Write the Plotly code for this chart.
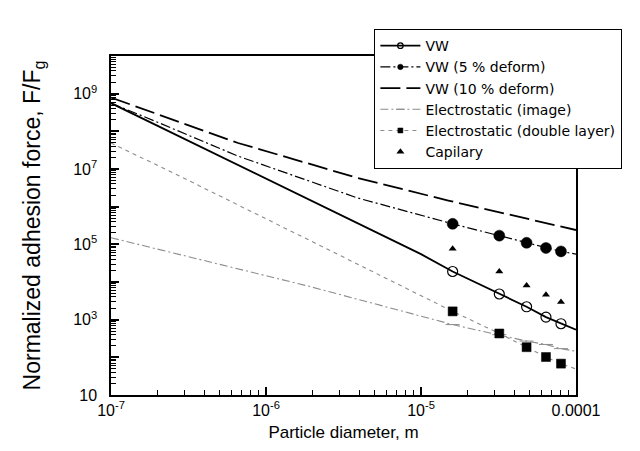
import plotly.graph_objects as go

# ---- data ----
marker_d = [1.6e-5, 3.2e-5, 4.8e-5, 6.4e-5, 8.0e-5]

vw_line_d = [1e-7, 1e-6, 1e-5]
vw_line_f = [5.6e8, 5.5e6, 5.5e4]
vw_end_d, vw_end_f = 1e-4, 540
vw_pts = [1.9e4, 4.8e3, 2.2e3, 1.17e3, 780]

vw5_line_d = [1e-7, 1.9e-7, 6.6e-7, 3.9e-6]
vw5_line_f = [5.6e8, 1.9e8, 2.2e7, 1.7e6]
vw5_end_d, vw5_end_f = 1e-4, 5.5e4
vw5_pts = [3.5e5, 1.7e5, 1.1e5, 8.0e4, 6.5e4]

vw10_d = [1e-7, 6.6e-7, 3.9e-6, 1.5e-5, 1e-4]
vw10_f = [7.9e8, 4.9e7, 5.8e6, 1.45e6, 2.4e5]

img_line_d = [1e-7, 1.87e-6]
img_line_f = [1.5e5, 7.8e3]
img_end_d, img_end_f = 1e-4, 145
img_pts = [740, 400, 270, 220, 170]

dl_line_d = [1e-7, 2.77e-7, 2.28e-6]
dl_line_f = [4.9e7, 6.5e6, 8.9e4]
dl_end_d, dl_end_f = 1e-4, 49
dl_pts = [1.66e3, 430, 186, 102, 68]

cap_pts = [7.6e4, 1.9e4, 8.1e3, 4.6e3, 2.95e3]

x_tickvals = [1e-7, 1e-6, 1e-5, 1e-4]
x_ticktext = ["10<sup>-7</sup>", "10<sup>-6</sup>", "10<sup>-5</sup>", "0.0001"]
y_tickvals = [1e1, 1e2, 1e3, 1e4, 1e5, 1e6, 1e7, 1e8, 1e9, 1e10]
y_ticktext = ["10", "", "10<sup>3</sup>", "", "10<sup>5</sup>", "", "10<sup>7</sup>", "", "10<sup>9</sup>", ""]

x_minor = [m * 10.0 ** e for e in range(-7, -4) for m in range(2, 10)]
y_minor = [m * 10.0 ** e for e in range(1, 10) for m in range(2, 10)]

FONT = "Liberation Sans, Arial, sans-serif"
LEGFONT = "DejaVu Sans, sans-serif"
BLACK = "black"
GRAY = "#8c8c8c"


def series(line_d, line_f, pts, end_d, end_f, msize):
    xs = list(line_d) + list(marker_d) + [end_d]
    ys = list(line_f) + list(pts) + [end_f]
    sizes = [0] * len(line_d) + [msize] * len(marker_d) + [0]
    return xs, ys, sizes


fig = go.Figure()

x, y, s = series(vw_line_d, vw_line_f, vw_pts, vw_end_d, vw_end_f, 10)
fig.add_trace(go.Scatter(x=x, y=y, name="VW", mode="lines+markers",
                         line=dict(color=BLACK, width=1.8),
                         marker=dict(symbol="circle-open", size=s, color=BLACK, opacity=1,
                                     line=dict(width=1.2, color=BLACK))))

x, y, s = series(vw5_line_d, vw5_line_f, vw5_pts, vw5_end_d, vw5_end_f, 11)
fig.add_trace(go.Scatter(x=x, y=y, name="VW (5 % deform)", mode="lines+markers",
                         line=dict(color=BLACK, width=1.2, dash="10px,3px,2px,3px"),
                         marker=dict(symbol="circle", size=s, color=BLACK, opacity=1,
                                     line=dict(width=0.5, color=BLACK))))

fig.add_trace(go.Scatter(x=vw10_d, y=vw10_f, name="VW (10 % deform)", mode="lines",
                         line=dict(color=BLACK, width=1.8, dash="20px,6px")))

x, y, s = series(img_line_d, img_line_f, img_pts, img_end_d, img_end_f, 10)
fig.add_trace(go.Scatter(x=x, y=y, name="Electrostatic (image)", mode="lines+markers",
                         line=dict(color=GRAY, width=1.1, dash="8px,3px,2px,3px"),
                         marker=dict(symbol="line-ew-open", size=s, color=GRAY, opacity=1,
                                     line=dict(width=1, color=GRAY))))

x, y, s = series(dl_line_d, dl_line_f, dl_pts, dl_end_d, dl_end_f, 9)
fig.add_trace(go.Scatter(x=x, y=y, name="Electrostatic (double layer)", mode="lines+markers",
                         line=dict(color=GRAY, width=1.1, dash="4px,4px"),
                         marker=dict(symbol="square", size=s, color="#000000", opacity=1,
                                     line=dict(width=0.5, color="#000000"))))

# capillary markers live on the overlay axes (same ranges) that carry the minor ticks
fig.add_trace(go.Scatter(x=marker_d, y=cap_pts, name="Capilary", mode="markers",
                         xaxis="x2", yaxis="y2",
                         marker=dict(symbol="triangle-up", size=7, color=BLACK)))

axis_common = dict(
    type="log", showgrid=False, zeroline=False,
    showline=True, linecolor=BLACK, linewidth=1.5, mirror=True,
    ticks="inside", ticklen=8, tickwidth=1.5, tickcolor=BLACK,
    tickmode="array",
    tickfont=dict(family=FONT, size=16, color=BLACK),
)
minor_axis = dict(type="log", showgrid=False, zeroline=False, showline=False,
                  ticks="inside", ticklen=5, tickwidth=1.2, tickcolor=BLACK,
                  tickmode="array", showticklabels=False)

y_labels = [t + "&nbsp;&nbsp;" if t else "" for t in y_ticktext]

fig.update_layout(
    xaxis=dict(**axis_common, range=[-7, -4], tickvals=x_tickvals, ticktext=x_ticktext,
               title=dict(text="Particle diameter, m", standoff=8,
                          font=dict(family=FONT, size=17, color=BLACK))),
    yaxis=dict(**axis_common, range=[1, 10], tickvals=y_tickvals, ticktext=y_labels,
               title=dict(text="Normalized adhesion force, F/F<sub>g</sub>", standoff=26,
                          font=dict(family=FONT, size=23, color=BLACK))),
    xaxis2=dict(**minor_axis, range=[-7, -4], tickvals=x_minor,
                overlaying="x", anchor="y2", side="bottom"),
    yaxis2=dict(**minor_axis, range=[1, 10], tickvals=y_minor,
                overlaying="y", anchor="x2", side="left"),
    width=640, height=451,
    margin=dict(l=103, r=72, t=48, b=64, autoexpand=False),
    paper_bgcolor="white", plot_bgcolor="white",
    font=dict(family=FONT, color=BLACK),
    legend=dict(x=0.566, y=1.08, xanchor="left", yanchor="top",
                bgcolor="white", bordercolor=BLACK, borderwidth=1.2,
                font=dict(family=LEGFONT, size=14, color=BLACK),
                itemwidth=40, tracegroupgap=0),
)

fig.write_html("out.html")
